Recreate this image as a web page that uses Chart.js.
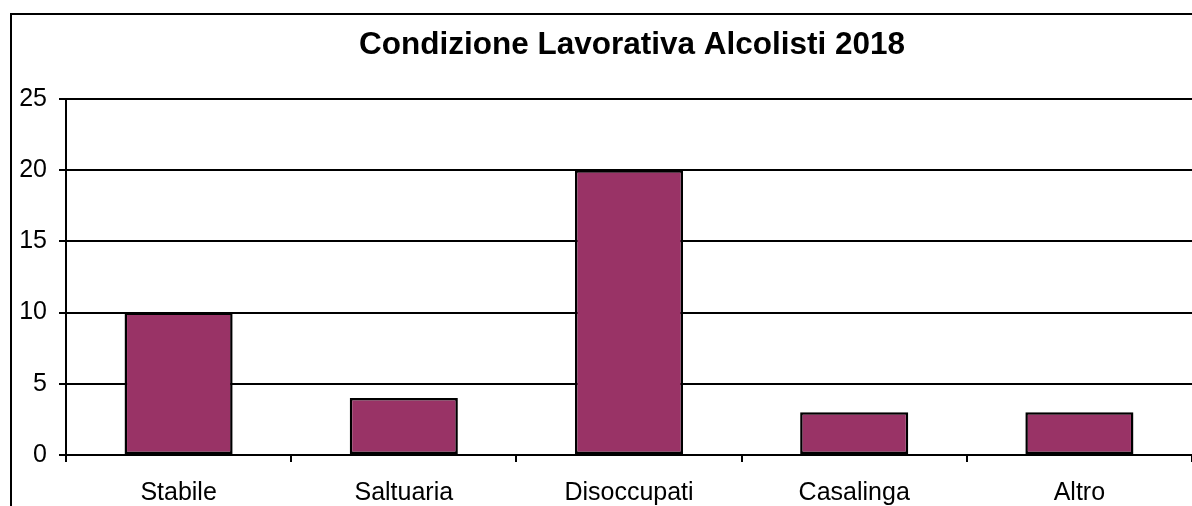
<!DOCTYPE html>
<html>
<head>
<meta charset="utf-8">
<title>Condizione Lavorativa Alcolisti 2018</title>
<script src="https://cdn.jsdelivr.net/npm/chart.js@4/dist/chart.umd.min.js"></script>
<style>
  html, body { margin: 0; padding: 0; background: #fff; overflow: hidden; }
  #wrap { position: absolute; left: 0; top: 0; width: 1200px; height: 540px; }
</style>
</head>
<body>
<div id="wrap"><canvas id="chart" width="1200" height="540"></canvas></div>
<script>
// data
const titleText = 'Condizione Lavorativa Alcolisti 2018';
const categories = ['Stabile', 'Saltuaria', 'Disoccupati', 'Casalinga', 'Altro'];
const values = [10, 4, 20, 3, 3];
const yTicks = [0, 5, 10, 15, 20, 25];

const FONT = 'Arial, "Liberation Sans", sans-serif';

// outer frame + title, drawn by hand like the old Excel chart box
const frameAndTitle = {
  id: 'frameAndTitle',
  beforeDraw(chart) {
    const ctx = chart.ctx;
    ctx.save();
    ctx.strokeStyle = '#000';
    ctx.lineWidth = 2;
    ctx.strokeRect(11, 14, 1186, 522);
    ctx.restore();
  },
  afterDraw(chart) {
    const ctx = chart.ctx;
    const area = chart.chartArea;
    ctx.save();
    ctx.fillStyle = '#000';
    ctx.font = 'bold 31.5px ' + FONT;
    ctx.textAlign = 'center';
    ctx.textBaseline = 'middle';
    ctx.fillText(titleText, (area.left + area.right) / 2 + 3, 45);
    ctx.restore();
  },
};

const ctx = document.getElementById('chart').getContext('2d');
new Chart(ctx, {
  type: 'bar',
  data: {
    labels: categories,
    datasets: [{
      data: values,
      backgroundColor: '#993366',
      borderColor: '#000',
      borderWidth: 2.5,
      borderSkipped: false,
      categoryPercentage: 1,
      barPercentage: 0.48,
    }],
  },
  options: {
    responsive: false,
    animation: false,
    events: [],
    layout: { padding: { top: 99, right: 8, bottom: 0, left: 0 } },
    plugins: {
      legend: { display: false },
      title: { display: false },
      tooltip: { enabled: false },
    },
    scales: {
      x: {
        offset: true,
        afterFit: (scale) => { scale.height = 85; },
        grid: {
          offset: true,
          drawOnChartArea: false,
          drawTicks: true,
          tickLength: 7,
          color: '#000',
          lineWidth: 2,
        },
        border: { display: true, color: '#000', width: 2 },
        ticks: {
          color: '#000',
          font: { family: FONT, size: 25 },
          padding: 16,
          maxRotation: 0,
        },
      },
      y: {
        min: 0,
        max: 25,
        afterFit: (scale) => { scale.width = 66; },
        afterBuildTicks: (scale) => { scale.ticks = yTicks.map((v) => ({ value: v })); },
        grid: {
          color: '#000',
          lineWidth: 2,
          drawTicks: true,
          tickLength: 7,
        },
        border: { display: true, color: '#000', width: 2 },
        ticks: {
          color: '#000',
          font: { family: FONT, size: 25 },
          padding: 12,
        },
      },
    },
  },
  plugins: [frameAndTitle],
});
</script>
</body>
</html>
